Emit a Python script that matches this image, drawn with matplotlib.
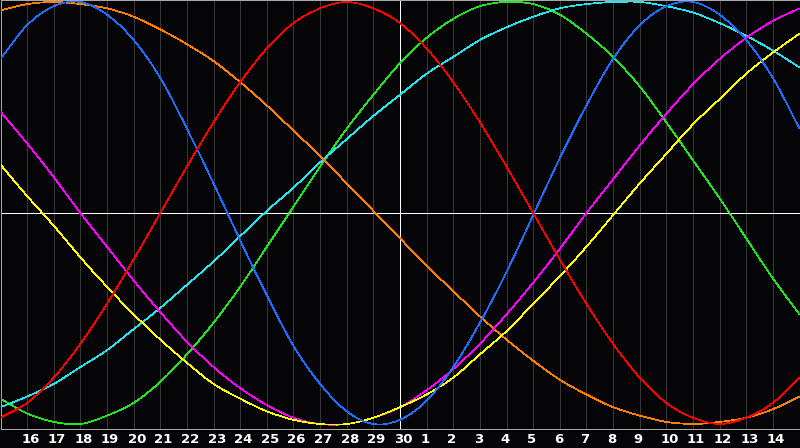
import matplotlib
matplotlib.use("Agg")
import matplotlib.pyplot as plt
from matplotlib.path import Path
from matplotlib.patches import PathPatch
import numpy as np

# day labels under the grid lines (grid line 1 .. 29), 30 is the white "today" line
day_labels = [16, 17, 18, 19, 20, 21, 22, 23, 24, 25, 26, 27, 28, 29, 30,
              1, 2, 3, 4, 5, 6, 7, 8, 9, 10, 11, 12, 13, 14]

# curve values read at each grid line (31 points, left edge .. right edge)
green = [-0.88, -0.95, -0.99, -1.00, -0.96, -0.90, -0.80, -0.67, -0.52, -0.35, -0.16, 0.03, 0.22, 0.40, 0.56, 0.71,
         0.83, 0.92, 0.98, 1.00, 0.99, 0.94, 0.85, 0.74, 0.60, 0.43, 0.25, 0.07, -0.12, -0.31, -0.48]
cyan = [-0.92, -0.87, -0.81, -0.73, -0.65, -0.55, -0.45, -0.34, -0.23, -0.11, 0.01, 0.12, 0.24, 0.35, 0.46, 0.56,
        0.66, 0.74, 0.82, 0.88, 0.93, 0.97, 0.99, 1.00, 1.00, 0.98, 0.95, 0.90, 0.84, 0.77, 0.69]
orange = [0.96, 0.99, 1.00, 0.99, 0.97, 0.93, 0.87, 0.80, 0.72, 0.62, 0.51, 0.39, 0.27, 0.14, 0.01, -0.12,
          -0.25, -0.37, -0.49, -0.60, -0.70, -0.79, -0.86, -0.92, -0.96, -0.99, -1.00, -0.99, -0.97, -0.93, -0.87]
magenta = [0.48, 0.33, 0.17, 0.00, -0.16, -0.32, -0.47, -0.61, -0.73, -0.83, -0.91, -0.97, -1.00, -1.00, -0.97, -0.92,
           -0.84, -0.74, -0.62, -0.48, -0.33, -0.17, 0.00, 0.16, 0.32, 0.47, 0.61, 0.73, 0.83, 0.91, 0.97]
yellow = [0.23, 0.08, -0.06, -0.21, -0.35, -0.48, -0.60, -0.71, -0.81, -0.88, -0.94, -0.98, -1.00, -1.00, -0.97, -0.92,
          -0.86, -0.78, -0.67, -0.56, -0.43, -0.30, -0.16, -0.01, 0.14, 0.28, 0.42, 0.54, 0.66, 0.76, 0.85]
blue = [0.73, 0.89, 0.98, 1.00, 0.94, 0.82, 0.64, 0.40, 0.14, -0.13, -0.39, -0.63, -0.81, -0.94, -1.00, -0.98,
        -0.89, -0.73, -0.52, -0.28, -0.01, 0.26, 0.51, 0.73, 0.89, 0.98, 1.00, 0.94, 0.82, 0.64, 0.40]
red = [-0.97, -0.90, -0.78, -0.62, -0.43, -0.22, 0.00, 0.22, 0.43, 0.62, 0.78, 0.90, 0.97, 1.00, 0.97, 0.90,
       0.78, 0.62, 0.43, 0.22, 0.00, -0.22, -0.43, -0.62, -0.78, -0.90, -0.97, -1.00, -0.97, -0.90, -0.78]

series = [(green, "#22e622"), (cyan, "#22e6f0"), (orange, "#ff8000"), (magenta, "#ff00ff"),
          (yellow, "#ffff00"), (blue, "#1e6eff"), (red, "#ff0000")]

BG = "#050508"
W, H = 800, 448


def smooth_path(ys):
    # catmull-rom through the daily points, as cubic bezier segments
    x = np.arange(len(ys), dtype=float)
    y = np.array(ys, dtype=float)
    px = np.concatenate([[2 * x[0] - x[1]], x, [2 * x[-1] - x[-2]]])
    py = np.concatenate([[2 * y[0] - y[1]], y, [2 * y[-1] - y[-2]]])
    verts = [(x[0], y[0])]
    codes = [Path.MOVETO]
    for i in range(1, len(px) - 2):
        c1 = (px[i] + (px[i + 1] - px[i - 1]) / 6, py[i] + (py[i + 1] - py[i - 1]) / 6)
        c2 = (px[i + 1] - (px[i + 2] - px[i]) / 6, py[i + 1] - (py[i + 2] - py[i]) / 6)
        verts += [c1, c2, (px[i + 1], py[i + 1])]
        codes += [Path.CURVE4] * 3
    return Path(verts, codes)


fig = plt.figure(figsize=(W / 100, H / 100), dpi=100, facecolor=BG)
# axes box: 1px grey frame from y=0 to y=428
ax = fig.add_axes([0.5 / W, (H - 428.5) / H, 799 / W, 428 / H])
ax.set_facecolor(BG)
ax.set_xlim(0, 30)
ax.set_ylim(-1 - 4.5 / 211, 1 + 1.5 / 211)

for s in ax.spines.values():
    s.set_color("#a8a8a8")
    s.set_linewidth(0.72)

ax.set_xticks(range(1, 30))
ax.set_yticks([])
ax.tick_params(length=0, labelbottom=False)
ax.grid(axis="x", color="#383838", linewidth=0.72, antialiased=False)

ax.axhline(0, color="white", linewidth=0.72, antialiased=False, zorder=2)
ax.axvline(15, color="white", linewidth=0.72, antialiased=False, zorder=2)

for ys, c in series:
    ax.add_patch(PathPatch(smooth_path(ys), facecolor="none", edgecolor=c,
                           linewidth=0.5, antialiased=False, zorder=3))

for i, lab in enumerate(day_labels):
    ax.text(i + 1 - 6 / 26.63, -11 / 428, str(lab), transform=ax.get_xaxis_transform(),
            ha="left", va="center", color="white", fontsize=9.5, fontweight="bold",
            family="DejaVu Sans", clip_on=False)

fig.savefig("out.png", dpi=100, facecolor=BG)
